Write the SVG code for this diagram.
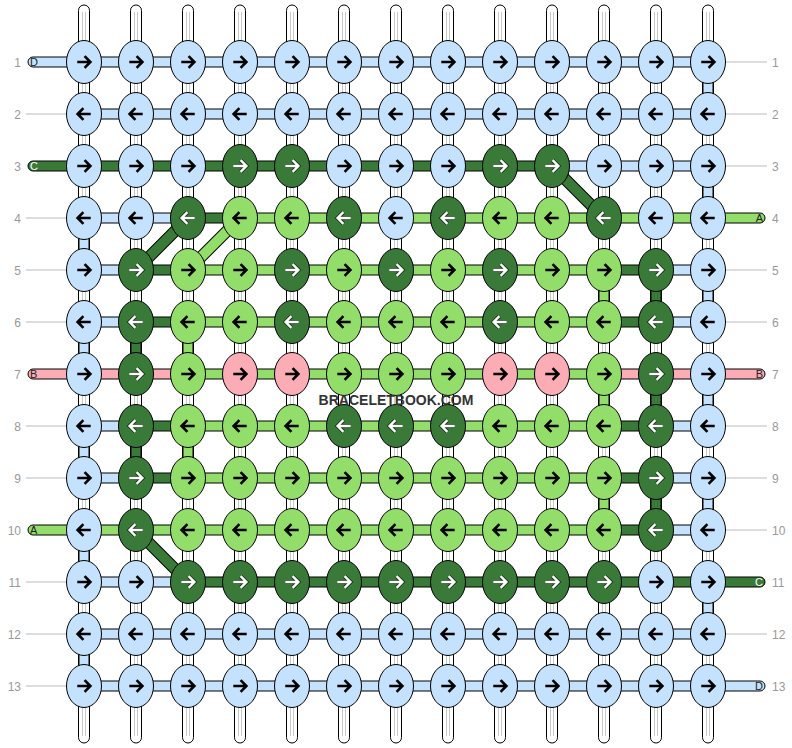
<svg xmlns="http://www.w3.org/2000/svg" width="792" height="748" viewBox="0 0 792 748">
<style>
.w{fill:#fff;stroke:#000;stroke-width:1}
.wl{stroke:#c8c8c8;stroke-width:1}
.c{stroke:#000;stroke-width:1}
.lb{fill:#c4e2fd}
.dg{fill:#3a7a38}
.lg{fill:#93de6b}
.pk{fill:#fbacb5}
.n{stroke:#000;stroke-width:1}
.gl{stroke:#bbb;stroke-width:1}
.lab{font-family:"Liberation Sans",Arial,sans-serif;font-size:12px;fill:#999}
.tl{font-family:"Liberation Sans",Arial,sans-serif;font-size:11px;fill:#222}
.tlw{font-family:"Liberation Sans",Arial,sans-serif;font-size:11px;fill:#fff}
.wm{font-family:"Liberation Sans",Arial,sans-serif;font-size:14px;font-weight:bold;fill:#333}
</style>
<defs>
<path id="pr" d="M-6.7 0H5.6M0.6-5.8L6.4 0L0.6 5.8" fill="none"/>
<path id="pl" d="M6.7 0H-5.6M-0.6-5.8L-6.4 0L-0.6 5.8" fill="none"/>
<g id="R"><use href="#pr" stroke="#000" stroke-width="2.6"/></g>
<g id="L"><use href="#pl" stroke="#000" stroke-width="2.6"/></g>
<g id="RW"><use href="#pr" stroke="#1a3a1a" stroke-width="4.2"/><use href="#pr" stroke="#fff" stroke-width="2.4"/></g>
<g id="LW"><use href="#pl" stroke="#1a3a1a" stroke-width="4.2"/><use href="#pl" stroke="#fff" stroke-width="2.4"/></g>
</defs>
<rect width="792" height="748" fill="#fff"/>
<g id="warps">
<rect class="w" x="78.5" y="5" width="11" height="738" rx="5.5"/>
<rect class="w" x="130.5" y="5" width="11" height="738" rx="5.5"/>
<rect class="w" x="182.5" y="5" width="11" height="738" rx="5.5"/>
<rect class="w" x="234.5" y="5" width="11" height="738" rx="5.5"/>
<rect class="w" x="286.5" y="5" width="11" height="738" rx="5.5"/>
<rect class="w" x="338.5" y="5" width="11" height="738" rx="5.5"/>
<rect class="w" x="390.5" y="5" width="11" height="738" rx="5.5"/>
<rect class="w" x="442.5" y="5" width="11" height="738" rx="5.5"/>
<rect class="w" x="494.5" y="5" width="11" height="738" rx="5.5"/>
<rect class="w" x="546.5" y="5" width="11" height="738" rx="5.5"/>
<rect class="w" x="598.5" y="5" width="11" height="738" rx="5.5"/>
<rect class="w" x="650.5" y="5" width="11" height="738" rx="5.5"/>
<rect class="w" x="702.5" y="5" width="11" height="738" rx="5.5"/>
<path class="wl" d="M82.5 12V736M85.5 12V736M134.5 12V736M137.5 12V736M186.5 12V736M189.5 12V736M238.5 12V736M241.5 12V736M290.5 12V736M293.5 12V736M342.5 12V736M345.5 12V736M394.5 12V736M397.5 12V736M446.5 12V736M449.5 12V736M498.5 12V736M501.5 12V736M550.5 12V736M553.5 12V736M602.5 12V736M605.5 12V736M654.5 12V736M657.5 12V736M706.5 12V736M709.5 12V736"/>
</g>
<g id="label-lines">
<path class="gl" d="M26 114H67M26 218H67M26 270H67M26 322H67M26 426H67M26 478H67M26 582H67M26 634H67M26 686H67"/>
<path class="gl" d="M725 62H767M725 114H767M725 166H767M725 270H767M725 322H767M725 426H767M725 478H767M725 530H767M725 634H767"/>
</g>
<g id="connectors">
<rect class="c lb" x="84" y="57" width="624" height="10"/>
<rect class="c lb" x="84" y="109" width="624" height="10"/>
<rect class="c dg" x="84" y="161" width="468" height="10"/>
<rect class="c lb" x="552" y="161" width="156" height="10"/>
<rect class="c lb" x="84" y="213" width="104" height="10"/>
<rect class="c dg" x="188" y="213" width="52" height="10"/>
<rect class="c lg" x="240" y="213" width="468" height="10"/>
<rect class="c lb" x="84" y="265" width="52" height="10"/>
<rect class="c dg" x="136" y="265" width="52" height="10"/>
<rect class="c lg" x="188" y="265" width="416" height="10"/>
<rect class="c dg" x="604" y="265" width="52" height="10"/>
<rect class="c lb" x="656" y="265" width="52" height="10"/>
<rect class="c lb" x="84" y="317" width="52" height="10"/>
<rect class="c dg" x="136" y="317" width="52" height="10"/>
<rect class="c lg" x="188" y="317" width="416" height="10"/>
<rect class="c dg" x="604" y="317" width="52" height="10"/>
<rect class="c lb" x="656" y="317" width="52" height="10"/>
<rect class="c pk" x="84" y="369" width="104" height="10"/>
<rect class="c lg" x="188" y="369" width="416" height="10"/>
<rect class="c pk" x="604" y="369" width="104" height="10"/>
<rect class="c lb" x="84" y="421" width="52" height="10"/>
<rect class="c dg" x="136" y="421" width="52" height="10"/>
<rect class="c lg" x="188" y="421" width="416" height="10"/>
<rect class="c dg" x="604" y="421" width="52" height="10"/>
<rect class="c lb" x="656" y="421" width="52" height="10"/>
<rect class="c lb" x="84" y="473" width="52" height="10"/>
<rect class="c dg" x="136" y="473" width="52" height="10"/>
<rect class="c lg" x="188" y="473" width="416" height="10"/>
<rect class="c dg" x="604" y="473" width="52" height="10"/>
<rect class="c lb" x="656" y="473" width="52" height="10"/>
<rect class="c lg" x="84" y="525" width="520" height="10"/>
<rect class="c dg" x="604" y="525" width="52" height="10"/>
<rect class="c lb" x="656" y="525" width="52" height="10"/>
<rect class="c lb" x="84" y="577" width="104" height="10"/>
<rect class="c dg" x="188" y="577" width="520" height="10"/>
<rect class="c lb" x="84" y="629" width="624" height="10"/>
<rect class="c lb" x="84" y="681" width="624" height="10"/>
<rect class="c lb" x="703" y="62" width="10" height="52"/>
<rect class="c lb" x="703" y="166" width="10" height="52"/>
<rect class="c lb" x="79" y="218" width="10" height="52"/>
<rect class="c lg" x="599" y="270" width="10" height="52"/>
<rect class="c dg" x="651" y="270" width="10" height="52"/>
<rect class="c lb" x="703" y="270" width="10" height="52"/>
<rect class="c lb" x="79" y="322" width="10" height="52"/>
<rect class="c dg" x="131" y="322" width="10" height="52"/>
<rect class="c lg" x="183" y="322" width="10" height="52"/>
<rect class="c lg" x="599" y="374" width="10" height="52"/>
<rect class="c dg" x="651" y="374" width="10" height="52"/>
<rect class="c lb" x="703" y="374" width="10" height="52"/>
<rect class="c lb" x="79" y="426" width="10" height="52"/>
<rect class="c dg" x="131" y="426" width="10" height="52"/>
<rect class="c lg" x="183" y="426" width="10" height="52"/>
<rect class="c lg" x="599" y="478" width="10" height="52"/>
<rect class="c dg" x="651" y="478" width="10" height="52"/>
<rect class="c lb" x="703" y="478" width="10" height="52"/>
<rect class="c lb" x="79" y="530" width="10" height="52"/>
<rect class="c lb" x="703" y="582" width="10" height="52"/>
<rect class="c lb" x="79" y="634" width="10" height="52"/>
<path d="M552 166L604 218M136 270L188 218M136 530L188 582" stroke="#000" stroke-width="12"/>
<path d="M552 166L604 218M136 270L188 218M136 530L188 582" stroke="#3a7a38" stroke-width="10"/>
<path d="M188 270L240 218" stroke="#000" stroke-width="12"/>
<path d="M188 270L240 218" stroke="#93de6b" stroke-width="10"/>
</g>
<g id="tails">
<rect class="c lb" x="28" y="57" width="60" height="10" rx="5"/>
<rect class="c dg" x="28" y="161" width="60" height="10" rx="5"/>
<rect class="c pk" x="28" y="369" width="60" height="10" rx="5"/>
<rect class="c lg" x="28" y="525" width="60" height="10" rx="5"/>
<rect class="c lg" x="704" y="213" width="61" height="10" rx="5"/>
<rect class="c pk" x="704" y="369" width="61" height="10" rx="5"/>
<rect class="c dg" x="704" y="577" width="61" height="10" rx="5"/>
<rect class="c lb" x="704" y="681" width="61" height="10" rx="5"/>
<text class="tl" x="30" y="66">D</text>
<text class="tlw" x="30" y="170">C</text>
<text class="tl" x="30" y="378">B</text>
<text class="tl" x="30" y="534">A</text>
<text class="tl" x="763" y="222" text-anchor="end">A</text>
<text class="tl" x="763" y="378" text-anchor="end">B</text>
<text class="tlw" x="763" y="586" text-anchor="end">C</text>
<text class="tl" x="763" y="690" text-anchor="end">D</text>
</g>
<g id="row1">
<g id="n1-1"><ellipse class="n lb" cx="84" cy="62" rx="17.5" ry="21.5"/><use href="#R" x="84" y="62"/></g>
<g id="n1-2"><ellipse class="n lb" cx="136" cy="62" rx="17.5" ry="21.5"/><use href="#R" x="136" y="62"/></g>
<g id="n1-3"><ellipse class="n lb" cx="188" cy="62" rx="17.5" ry="21.5"/><use href="#R" x="188" y="62"/></g>
<g id="n1-4"><ellipse class="n lb" cx="240" cy="62" rx="17.5" ry="21.5"/><use href="#R" x="240" y="62"/></g>
<g id="n1-5"><ellipse class="n lb" cx="292" cy="62" rx="17.5" ry="21.5"/><use href="#R" x="292" y="62"/></g>
<g id="n1-6"><ellipse class="n lb" cx="344" cy="62" rx="17.5" ry="21.5"/><use href="#R" x="344" y="62"/></g>
<g id="n1-7"><ellipse class="n lb" cx="396" cy="62" rx="17.5" ry="21.5"/><use href="#R" x="396" y="62"/></g>
<g id="n1-8"><ellipse class="n lb" cx="448" cy="62" rx="17.5" ry="21.5"/><use href="#R" x="448" y="62"/></g>
<g id="n1-9"><ellipse class="n lb" cx="500" cy="62" rx="17.5" ry="21.5"/><use href="#R" x="500" y="62"/></g>
<g id="n1-10"><ellipse class="n lb" cx="552" cy="62" rx="17.5" ry="21.5"/><use href="#R" x="552" y="62"/></g>
<g id="n1-11"><ellipse class="n lb" cx="604" cy="62" rx="17.5" ry="21.5"/><use href="#R" x="604" y="62"/></g>
<g id="n1-12"><ellipse class="n lb" cx="656" cy="62" rx="17.5" ry="21.5"/><use href="#R" x="656" y="62"/></g>
<g id="n1-13"><ellipse class="n lb" cx="708" cy="62" rx="17.5" ry="21.5"/><use href="#R" x="708" y="62"/></g>
</g>
<g id="row2">
<g id="n2-1"><ellipse class="n lb" cx="84" cy="114" rx="17.5" ry="21.5"/><use href="#L" x="84" y="114"/></g>
<g id="n2-2"><ellipse class="n lb" cx="136" cy="114" rx="17.5" ry="21.5"/><use href="#L" x="136" y="114"/></g>
<g id="n2-3"><ellipse class="n lb" cx="188" cy="114" rx="17.5" ry="21.5"/><use href="#L" x="188" y="114"/></g>
<g id="n2-4"><ellipse class="n lb" cx="240" cy="114" rx="17.5" ry="21.5"/><use href="#L" x="240" y="114"/></g>
<g id="n2-5"><ellipse class="n lb" cx="292" cy="114" rx="17.5" ry="21.5"/><use href="#L" x="292" y="114"/></g>
<g id="n2-6"><ellipse class="n lb" cx="344" cy="114" rx="17.5" ry="21.5"/><use href="#L" x="344" y="114"/></g>
<g id="n2-7"><ellipse class="n lb" cx="396" cy="114" rx="17.5" ry="21.5"/><use href="#L" x="396" y="114"/></g>
<g id="n2-8"><ellipse class="n lb" cx="448" cy="114" rx="17.5" ry="21.5"/><use href="#L" x="448" y="114"/></g>
<g id="n2-9"><ellipse class="n lb" cx="500" cy="114" rx="17.5" ry="21.5"/><use href="#L" x="500" y="114"/></g>
<g id="n2-10"><ellipse class="n lb" cx="552" cy="114" rx="17.5" ry="21.5"/><use href="#L" x="552" y="114"/></g>
<g id="n2-11"><ellipse class="n lb" cx="604" cy="114" rx="17.5" ry="21.5"/><use href="#L" x="604" y="114"/></g>
<g id="n2-12"><ellipse class="n lb" cx="656" cy="114" rx="17.5" ry="21.5"/><use href="#L" x="656" y="114"/></g>
<g id="n2-13"><ellipse class="n lb" cx="708" cy="114" rx="17.5" ry="21.5"/><use href="#L" x="708" y="114"/></g>
</g>
<g id="row3">
<g id="n3-1"><ellipse class="n lb" cx="84" cy="166" rx="17.5" ry="21.5"/><use href="#R" x="84" y="166"/></g>
<g id="n3-2"><ellipse class="n lb" cx="136" cy="166" rx="17.5" ry="21.5"/><use href="#R" x="136" y="166"/></g>
<g id="n3-3"><ellipse class="n lb" cx="188" cy="166" rx="17.5" ry="21.5"/><use href="#R" x="188" y="166"/></g>
<g id="n3-4"><ellipse class="n dg" cx="240" cy="166" rx="17.5" ry="21.5"/><use href="#RW" x="240" y="166"/></g>
<g id="n3-5"><ellipse class="n dg" cx="292" cy="166" rx="17.5" ry="21.5"/><use href="#RW" x="292" y="166"/></g>
<g id="n3-6"><ellipse class="n lb" cx="344" cy="166" rx="17.5" ry="21.5"/><use href="#R" x="344" y="166"/></g>
<g id="n3-7"><ellipse class="n lb" cx="396" cy="166" rx="17.5" ry="21.5"/><use href="#R" x="396" y="166"/></g>
<g id="n3-8"><ellipse class="n lb" cx="448" cy="166" rx="17.5" ry="21.5"/><use href="#R" x="448" y="166"/></g>
<g id="n3-9"><ellipse class="n dg" cx="500" cy="166" rx="17.5" ry="21.5"/><use href="#RW" x="500" y="166"/></g>
<g id="n3-10"><ellipse class="n dg" cx="552" cy="166" rx="17.5" ry="21.5"/><use href="#RW" x="552" y="166"/></g>
<g id="n3-11"><ellipse class="n lb" cx="604" cy="166" rx="17.5" ry="21.5"/><use href="#R" x="604" y="166"/></g>
<g id="n3-12"><ellipse class="n lb" cx="656" cy="166" rx="17.5" ry="21.5"/><use href="#R" x="656" y="166"/></g>
<g id="n3-13"><ellipse class="n lb" cx="708" cy="166" rx="17.5" ry="21.5"/><use href="#R" x="708" y="166"/></g>
</g>
<g id="row4">
<g id="n4-1"><ellipse class="n lb" cx="84" cy="218" rx="17.5" ry="21.5"/><use href="#L" x="84" y="218"/></g>
<g id="n4-2"><ellipse class="n lb" cx="136" cy="218" rx="17.5" ry="21.5"/><use href="#L" x="136" y="218"/></g>
<g id="n4-3"><ellipse class="n dg" cx="188" cy="218" rx="17.5" ry="21.5"/><use href="#LW" x="188" y="218"/></g>
<g id="n4-4"><ellipse class="n lg" cx="240" cy="218" rx="17.5" ry="21.5"/><use href="#L" x="240" y="218"/></g>
<g id="n4-5"><ellipse class="n lg" cx="292" cy="218" rx="17.5" ry="21.5"/><use href="#L" x="292" y="218"/></g>
<g id="n4-6"><ellipse class="n dg" cx="344" cy="218" rx="17.5" ry="21.5"/><use href="#LW" x="344" y="218"/></g>
<g id="n4-7"><ellipse class="n lb" cx="396" cy="218" rx="17.5" ry="21.5"/><use href="#L" x="396" y="218"/></g>
<g id="n4-8"><ellipse class="n dg" cx="448" cy="218" rx="17.5" ry="21.5"/><use href="#LW" x="448" y="218"/></g>
<g id="n4-9"><ellipse class="n lg" cx="500" cy="218" rx="17.5" ry="21.5"/><use href="#L" x="500" y="218"/></g>
<g id="n4-10"><ellipse class="n lg" cx="552" cy="218" rx="17.5" ry="21.5"/><use href="#L" x="552" y="218"/></g>
<g id="n4-11"><ellipse class="n dg" cx="604" cy="218" rx="17.5" ry="21.5"/><use href="#LW" x="604" y="218"/></g>
<g id="n4-12"><ellipse class="n lb" cx="656" cy="218" rx="17.5" ry="21.5"/><use href="#L" x="656" y="218"/></g>
<g id="n4-13"><ellipse class="n lb" cx="708" cy="218" rx="17.5" ry="21.5"/><use href="#L" x="708" y="218"/></g>
</g>
<g id="row5">
<g id="n5-1"><ellipse class="n lb" cx="84" cy="270" rx="17.5" ry="21.5"/><use href="#R" x="84" y="270"/></g>
<g id="n5-2"><ellipse class="n dg" cx="136" cy="270" rx="17.5" ry="21.5"/><use href="#RW" x="136" y="270"/></g>
<g id="n5-3"><ellipse class="n lg" cx="188" cy="270" rx="17.5" ry="21.5"/><use href="#R" x="188" y="270"/></g>
<g id="n5-4"><ellipse class="n lg" cx="240" cy="270" rx="17.5" ry="21.5"/><use href="#R" x="240" y="270"/></g>
<g id="n5-5"><ellipse class="n dg" cx="292" cy="270" rx="17.5" ry="21.5"/><use href="#RW" x="292" y="270"/></g>
<g id="n5-6"><ellipse class="n lg" cx="344" cy="270" rx="17.5" ry="21.5"/><use href="#R" x="344" y="270"/></g>
<g id="n5-7"><ellipse class="n dg" cx="396" cy="270" rx="17.5" ry="21.5"/><use href="#RW" x="396" y="270"/></g>
<g id="n5-8"><ellipse class="n lg" cx="448" cy="270" rx="17.5" ry="21.5"/><use href="#R" x="448" y="270"/></g>
<g id="n5-9"><ellipse class="n dg" cx="500" cy="270" rx="17.5" ry="21.5"/><use href="#RW" x="500" y="270"/></g>
<g id="n5-10"><ellipse class="n lg" cx="552" cy="270" rx="17.5" ry="21.5"/><use href="#R" x="552" y="270"/></g>
<g id="n5-11"><ellipse class="n lg" cx="604" cy="270" rx="17.5" ry="21.5"/><use href="#R" x="604" y="270"/></g>
<g id="n5-12"><ellipse class="n dg" cx="656" cy="270" rx="17.5" ry="21.5"/><use href="#RW" x="656" y="270"/></g>
<g id="n5-13"><ellipse class="n lb" cx="708" cy="270" rx="17.5" ry="21.5"/><use href="#R" x="708" y="270"/></g>
</g>
<g id="row6">
<g id="n6-1"><ellipse class="n lb" cx="84" cy="322" rx="17.5" ry="21.5"/><use href="#L" x="84" y="322"/></g>
<g id="n6-2"><ellipse class="n dg" cx="136" cy="322" rx="17.5" ry="21.5"/><use href="#LW" x="136" y="322"/></g>
<g id="n6-3"><ellipse class="n lg" cx="188" cy="322" rx="17.5" ry="21.5"/><use href="#L" x="188" y="322"/></g>
<g id="n6-4"><ellipse class="n lg" cx="240" cy="322" rx="17.5" ry="21.5"/><use href="#L" x="240" y="322"/></g>
<g id="n6-5"><ellipse class="n dg" cx="292" cy="322" rx="17.5" ry="21.5"/><use href="#LW" x="292" y="322"/></g>
<g id="n6-6"><ellipse class="n lg" cx="344" cy="322" rx="17.5" ry="21.5"/><use href="#L" x="344" y="322"/></g>
<g id="n6-7"><ellipse class="n lg" cx="396" cy="322" rx="17.5" ry="21.5"/><use href="#L" x="396" y="322"/></g>
<g id="n6-8"><ellipse class="n lg" cx="448" cy="322" rx="17.5" ry="21.5"/><use href="#L" x="448" y="322"/></g>
<g id="n6-9"><ellipse class="n dg" cx="500" cy="322" rx="17.5" ry="21.5"/><use href="#LW" x="500" y="322"/></g>
<g id="n6-10"><ellipse class="n lg" cx="552" cy="322" rx="17.5" ry="21.5"/><use href="#L" x="552" y="322"/></g>
<g id="n6-11"><ellipse class="n lg" cx="604" cy="322" rx="17.5" ry="21.5"/><use href="#L" x="604" y="322"/></g>
<g id="n6-12"><ellipse class="n dg" cx="656" cy="322" rx="17.5" ry="21.5"/><use href="#LW" x="656" y="322"/></g>
<g id="n6-13"><ellipse class="n lb" cx="708" cy="322" rx="17.5" ry="21.5"/><use href="#L" x="708" y="322"/></g>
</g>
<g id="row7">
<g id="n7-1"><ellipse class="n lb" cx="84" cy="374" rx="17.5" ry="21.5"/><use href="#R" x="84" y="374"/></g>
<g id="n7-2"><ellipse class="n dg" cx="136" cy="374" rx="17.5" ry="21.5"/><use href="#RW" x="136" y="374"/></g>
<g id="n7-3"><ellipse class="n lg" cx="188" cy="374" rx="17.5" ry="21.5"/><use href="#R" x="188" y="374"/></g>
<g id="n7-4"><ellipse class="n pk" cx="240" cy="374" rx="17.5" ry="21.5"/><use href="#R" x="240" y="374"/></g>
<g id="n7-5"><ellipse class="n pk" cx="292" cy="374" rx="17.5" ry="21.5"/><use href="#R" x="292" y="374"/></g>
<g id="n7-6"><ellipse class="n lg" cx="344" cy="374" rx="17.5" ry="21.5"/><use href="#R" x="344" y="374"/></g>
<g id="n7-7"><ellipse class="n lg" cx="396" cy="374" rx="17.5" ry="21.5"/><use href="#R" x="396" y="374"/></g>
<g id="n7-8"><ellipse class="n lg" cx="448" cy="374" rx="17.5" ry="21.5"/><use href="#R" x="448" y="374"/></g>
<g id="n7-9"><ellipse class="n pk" cx="500" cy="374" rx="17.5" ry="21.5"/><use href="#R" x="500" y="374"/></g>
<g id="n7-10"><ellipse class="n pk" cx="552" cy="374" rx="17.5" ry="21.5"/><use href="#R" x="552" y="374"/></g>
<g id="n7-11"><ellipse class="n lg" cx="604" cy="374" rx="17.5" ry="21.5"/><use href="#R" x="604" y="374"/></g>
<g id="n7-12"><ellipse class="n dg" cx="656" cy="374" rx="17.5" ry="21.5"/><use href="#RW" x="656" y="374"/></g>
<g id="n7-13"><ellipse class="n lb" cx="708" cy="374" rx="17.5" ry="21.5"/><use href="#R" x="708" y="374"/></g>
</g>
<g id="row8">
<g id="n8-1"><ellipse class="n lb" cx="84" cy="426" rx="17.5" ry="21.5"/><use href="#L" x="84" y="426"/></g>
<g id="n8-2"><ellipse class="n dg" cx="136" cy="426" rx="17.5" ry="21.5"/><use href="#LW" x="136" y="426"/></g>
<g id="n8-3"><ellipse class="n lg" cx="188" cy="426" rx="17.5" ry="21.5"/><use href="#L" x="188" y="426"/></g>
<g id="n8-4"><ellipse class="n lg" cx="240" cy="426" rx="17.5" ry="21.5"/><use href="#L" x="240" y="426"/></g>
<g id="n8-5"><ellipse class="n lg" cx="292" cy="426" rx="17.5" ry="21.5"/><use href="#L" x="292" y="426"/></g>
<g id="n8-6"><ellipse class="n dg" cx="344" cy="426" rx="17.5" ry="21.5"/><use href="#LW" x="344" y="426"/></g>
<g id="n8-7"><ellipse class="n dg" cx="396" cy="426" rx="17.5" ry="21.5"/><use href="#LW" x="396" y="426"/></g>
<g id="n8-8"><ellipse class="n dg" cx="448" cy="426" rx="17.5" ry="21.5"/><use href="#LW" x="448" y="426"/></g>
<g id="n8-9"><ellipse class="n lg" cx="500" cy="426" rx="17.5" ry="21.5"/><use href="#L" x="500" y="426"/></g>
<g id="n8-10"><ellipse class="n lg" cx="552" cy="426" rx="17.5" ry="21.5"/><use href="#L" x="552" y="426"/></g>
<g id="n8-11"><ellipse class="n lg" cx="604" cy="426" rx="17.5" ry="21.5"/><use href="#L" x="604" y="426"/></g>
<g id="n8-12"><ellipse class="n dg" cx="656" cy="426" rx="17.5" ry="21.5"/><use href="#LW" x="656" y="426"/></g>
<g id="n8-13"><ellipse class="n lb" cx="708" cy="426" rx="17.5" ry="21.5"/><use href="#L" x="708" y="426"/></g>
</g>
<g id="row9">
<g id="n9-1"><ellipse class="n lb" cx="84" cy="478" rx="17.5" ry="21.5"/><use href="#R" x="84" y="478"/></g>
<g id="n9-2"><ellipse class="n dg" cx="136" cy="478" rx="17.5" ry="21.5"/><use href="#RW" x="136" y="478"/></g>
<g id="n9-3"><ellipse class="n lg" cx="188" cy="478" rx="17.5" ry="21.5"/><use href="#R" x="188" y="478"/></g>
<g id="n9-4"><ellipse class="n lg" cx="240" cy="478" rx="17.5" ry="21.5"/><use href="#R" x="240" y="478"/></g>
<g id="n9-5"><ellipse class="n lg" cx="292" cy="478" rx="17.5" ry="21.5"/><use href="#R" x="292" y="478"/></g>
<g id="n9-6"><ellipse class="n lg" cx="344" cy="478" rx="17.5" ry="21.5"/><use href="#R" x="344" y="478"/></g>
<g id="n9-7"><ellipse class="n lg" cx="396" cy="478" rx="17.5" ry="21.5"/><use href="#R" x="396" y="478"/></g>
<g id="n9-8"><ellipse class="n lg" cx="448" cy="478" rx="17.5" ry="21.5"/><use href="#R" x="448" y="478"/></g>
<g id="n9-9"><ellipse class="n lg" cx="500" cy="478" rx="17.5" ry="21.5"/><use href="#R" x="500" y="478"/></g>
<g id="n9-10"><ellipse class="n lg" cx="552" cy="478" rx="17.5" ry="21.5"/><use href="#R" x="552" y="478"/></g>
<g id="n9-11"><ellipse class="n lg" cx="604" cy="478" rx="17.5" ry="21.5"/><use href="#R" x="604" y="478"/></g>
<g id="n9-12"><ellipse class="n dg" cx="656" cy="478" rx="17.5" ry="21.5"/><use href="#RW" x="656" y="478"/></g>
<g id="n9-13"><ellipse class="n lb" cx="708" cy="478" rx="17.5" ry="21.5"/><use href="#R" x="708" y="478"/></g>
</g>
<g id="row10">
<g id="n10-1"><ellipse class="n lb" cx="84" cy="530" rx="17.5" ry="21.5"/><use href="#L" x="84" y="530"/></g>
<g id="n10-2"><ellipse class="n dg" cx="136" cy="530" rx="17.5" ry="21.5"/><use href="#LW" x="136" y="530"/></g>
<g id="n10-3"><ellipse class="n lg" cx="188" cy="530" rx="17.5" ry="21.5"/><use href="#L" x="188" y="530"/></g>
<g id="n10-4"><ellipse class="n lg" cx="240" cy="530" rx="17.5" ry="21.5"/><use href="#L" x="240" y="530"/></g>
<g id="n10-5"><ellipse class="n lg" cx="292" cy="530" rx="17.5" ry="21.5"/><use href="#L" x="292" y="530"/></g>
<g id="n10-6"><ellipse class="n lg" cx="344" cy="530" rx="17.5" ry="21.5"/><use href="#L" x="344" y="530"/></g>
<g id="n10-7"><ellipse class="n lg" cx="396" cy="530" rx="17.5" ry="21.5"/><use href="#L" x="396" y="530"/></g>
<g id="n10-8"><ellipse class="n lg" cx="448" cy="530" rx="17.5" ry="21.5"/><use href="#L" x="448" y="530"/></g>
<g id="n10-9"><ellipse class="n lg" cx="500" cy="530" rx="17.5" ry="21.5"/><use href="#L" x="500" y="530"/></g>
<g id="n10-10"><ellipse class="n lg" cx="552" cy="530" rx="17.5" ry="21.5"/><use href="#L" x="552" y="530"/></g>
<g id="n10-11"><ellipse class="n lg" cx="604" cy="530" rx="17.5" ry="21.5"/><use href="#L" x="604" y="530"/></g>
<g id="n10-12"><ellipse class="n dg" cx="656" cy="530" rx="17.5" ry="21.5"/><use href="#LW" x="656" y="530"/></g>
<g id="n10-13"><ellipse class="n lb" cx="708" cy="530" rx="17.5" ry="21.5"/><use href="#L" x="708" y="530"/></g>
</g>
<g id="row11">
<g id="n11-1"><ellipse class="n lb" cx="84" cy="582" rx="17.5" ry="21.5"/><use href="#R" x="84" y="582"/></g>
<g id="n11-2"><ellipse class="n lb" cx="136" cy="582" rx="17.5" ry="21.5"/><use href="#R" x="136" y="582"/></g>
<g id="n11-3"><ellipse class="n dg" cx="188" cy="582" rx="17.5" ry="21.5"/><use href="#RW" x="188" y="582"/></g>
<g id="n11-4"><ellipse class="n dg" cx="240" cy="582" rx="17.5" ry="21.5"/><use href="#RW" x="240" y="582"/></g>
<g id="n11-5"><ellipse class="n dg" cx="292" cy="582" rx="17.5" ry="21.5"/><use href="#RW" x="292" y="582"/></g>
<g id="n11-6"><ellipse class="n dg" cx="344" cy="582" rx="17.5" ry="21.5"/><use href="#RW" x="344" y="582"/></g>
<g id="n11-7"><ellipse class="n dg" cx="396" cy="582" rx="17.5" ry="21.5"/><use href="#RW" x="396" y="582"/></g>
<g id="n11-8"><ellipse class="n dg" cx="448" cy="582" rx="17.5" ry="21.5"/><use href="#RW" x="448" y="582"/></g>
<g id="n11-9"><ellipse class="n dg" cx="500" cy="582" rx="17.5" ry="21.5"/><use href="#RW" x="500" y="582"/></g>
<g id="n11-10"><ellipse class="n dg" cx="552" cy="582" rx="17.5" ry="21.5"/><use href="#RW" x="552" y="582"/></g>
<g id="n11-11"><ellipse class="n dg" cx="604" cy="582" rx="17.5" ry="21.5"/><use href="#RW" x="604" y="582"/></g>
<g id="n11-12"><ellipse class="n lb" cx="656" cy="582" rx="17.5" ry="21.5"/><use href="#R" x="656" y="582"/></g>
<g id="n11-13"><ellipse class="n lb" cx="708" cy="582" rx="17.5" ry="21.5"/><use href="#R" x="708" y="582"/></g>
</g>
<g id="row12">
<g id="n12-1"><ellipse class="n lb" cx="84" cy="634" rx="17.5" ry="21.5"/><use href="#L" x="84" y="634"/></g>
<g id="n12-2"><ellipse class="n lb" cx="136" cy="634" rx="17.5" ry="21.5"/><use href="#L" x="136" y="634"/></g>
<g id="n12-3"><ellipse class="n lb" cx="188" cy="634" rx="17.5" ry="21.5"/><use href="#L" x="188" y="634"/></g>
<g id="n12-4"><ellipse class="n lb" cx="240" cy="634" rx="17.5" ry="21.5"/><use href="#L" x="240" y="634"/></g>
<g id="n12-5"><ellipse class="n lb" cx="292" cy="634" rx="17.5" ry="21.5"/><use href="#L" x="292" y="634"/></g>
<g id="n12-6"><ellipse class="n lb" cx="344" cy="634" rx="17.5" ry="21.5"/><use href="#L" x="344" y="634"/></g>
<g id="n12-7"><ellipse class="n lb" cx="396" cy="634" rx="17.5" ry="21.5"/><use href="#L" x="396" y="634"/></g>
<g id="n12-8"><ellipse class="n lb" cx="448" cy="634" rx="17.5" ry="21.5"/><use href="#L" x="448" y="634"/></g>
<g id="n12-9"><ellipse class="n lb" cx="500" cy="634" rx="17.5" ry="21.5"/><use href="#L" x="500" y="634"/></g>
<g id="n12-10"><ellipse class="n lb" cx="552" cy="634" rx="17.5" ry="21.5"/><use href="#L" x="552" y="634"/></g>
<g id="n12-11"><ellipse class="n lb" cx="604" cy="634" rx="17.5" ry="21.5"/><use href="#L" x="604" y="634"/></g>
<g id="n12-12"><ellipse class="n lb" cx="656" cy="634" rx="17.5" ry="21.5"/><use href="#L" x="656" y="634"/></g>
<g id="n12-13"><ellipse class="n lb" cx="708" cy="634" rx="17.5" ry="21.5"/><use href="#L" x="708" y="634"/></g>
</g>
<g id="row13">
<g id="n13-1"><ellipse class="n lb" cx="84" cy="686" rx="17.5" ry="21.5"/><use href="#R" x="84" y="686"/></g>
<g id="n13-2"><ellipse class="n lb" cx="136" cy="686" rx="17.5" ry="21.5"/><use href="#R" x="136" y="686"/></g>
<g id="n13-3"><ellipse class="n lb" cx="188" cy="686" rx="17.5" ry="21.5"/><use href="#R" x="188" y="686"/></g>
<g id="n13-4"><ellipse class="n lb" cx="240" cy="686" rx="17.5" ry="21.5"/><use href="#R" x="240" y="686"/></g>
<g id="n13-5"><ellipse class="n lb" cx="292" cy="686" rx="17.5" ry="21.5"/><use href="#R" x="292" y="686"/></g>
<g id="n13-6"><ellipse class="n lb" cx="344" cy="686" rx="17.5" ry="21.5"/><use href="#R" x="344" y="686"/></g>
<g id="n13-7"><ellipse class="n lb" cx="396" cy="686" rx="17.5" ry="21.5"/><use href="#R" x="396" y="686"/></g>
<g id="n13-8"><ellipse class="n lb" cx="448" cy="686" rx="17.5" ry="21.5"/><use href="#R" x="448" y="686"/></g>
<g id="n13-9"><ellipse class="n lb" cx="500" cy="686" rx="17.5" ry="21.5"/><use href="#R" x="500" y="686"/></g>
<g id="n13-10"><ellipse class="n lb" cx="552" cy="686" rx="17.5" ry="21.5"/><use href="#R" x="552" y="686"/></g>
<g id="n13-11"><ellipse class="n lb" cx="604" cy="686" rx="17.5" ry="21.5"/><use href="#R" x="604" y="686"/></g>
<g id="n13-12"><ellipse class="n lb" cx="656" cy="686" rx="17.5" ry="21.5"/><use href="#R" x="656" y="686"/></g>
<g id="n13-13"><ellipse class="n lb" cx="708" cy="686" rx="17.5" ry="21.5"/><use href="#R" x="708" y="686"/></g>
</g>
<g id="row-labels">
<text class="lab" x="21" y="66.5" text-anchor="end">1</text>
<text class="lab" x="21" y="118.5" text-anchor="end">2</text>
<text class="lab" x="21" y="170.5" text-anchor="end">3</text>
<text class="lab" x="21" y="222.5" text-anchor="end">4</text>
<text class="lab" x="21" y="274.5" text-anchor="end">5</text>
<text class="lab" x="21" y="326.5" text-anchor="end">6</text>
<text class="lab" x="21" y="378.5" text-anchor="end">7</text>
<text class="lab" x="21" y="430.5" text-anchor="end">8</text>
<text class="lab" x="21" y="482.5" text-anchor="end">9</text>
<text class="lab" x="21" y="534.5" text-anchor="end">10</text>
<text class="lab" x="21" y="586.5" text-anchor="end">11</text>
<text class="lab" x="21" y="638.5" text-anchor="end">12</text>
<text class="lab" x="21" y="690.5" text-anchor="end">13</text>
<text class="lab" x="772" y="66.5">1</text>
<text class="lab" x="772" y="118.5">2</text>
<text class="lab" x="772" y="170.5">3</text>
<text class="lab" x="772" y="222.5">4</text>
<text class="lab" x="772" y="274.5">5</text>
<text class="lab" x="772" y="326.5">6</text>
<text class="lab" x="772" y="378.5">7</text>
<text class="lab" x="772" y="430.5">8</text>
<text class="lab" x="772" y="482.5">9</text>
<text class="lab" x="772" y="534.5">10</text>
<text class="lab" x="772" y="586.5">11</text>
<text class="lab" x="772" y="638.5">12</text>
<text class="lab" x="772" y="690.5">13</text>
</g>
<text class="wm" x="396" y="405" text-anchor="middle">BRACELETBOOK.COM</text>
</svg>
